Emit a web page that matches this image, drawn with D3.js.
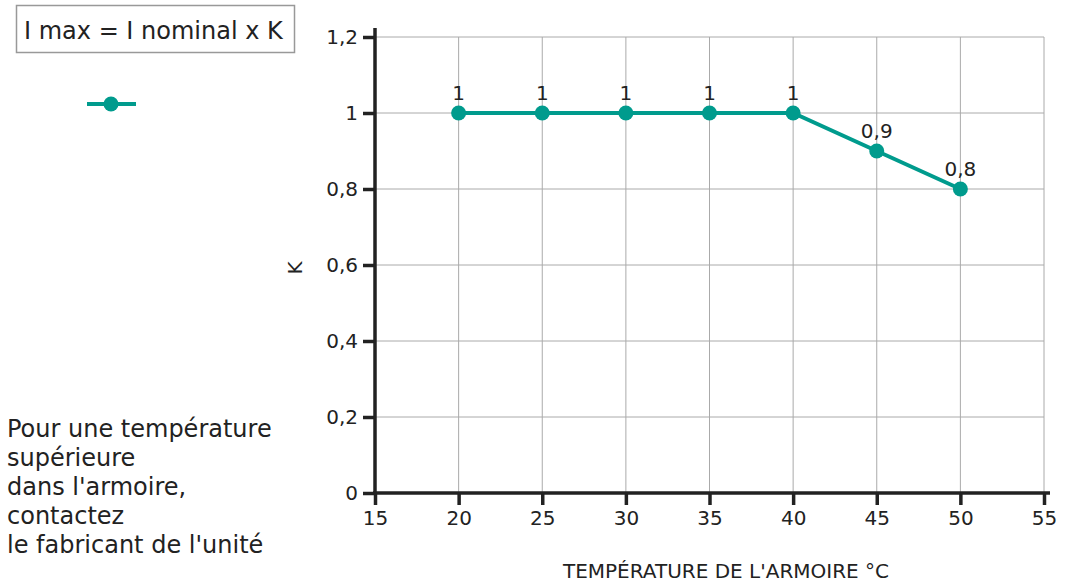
<!DOCTYPE html>
<html>
<head>
    <meta charset='utf-8'>
    <style>
        body { margin: 0; background: #fff; }
        text { font-family: "DejaVu Sans", Verdana, sans-serif; fill: #222; }
        .grid line { stroke: #aaa; stroke-width: 1px; }
    </style>
</head>
<body>
    <div id='chart'></div>
    <script src="https://d3js.org/d3.v7.min.js"></script>
    <script>
        var temps = [20, 25, 30, 35, 40, 45, 50];
        var kValues = [1, 1, 1, 1, 1, 0.9, 0.8];
        var xTicks = [15, 20, 25, 30, 35, 40, 45, 50, 55];
        var yTicks = [0, 0.2, 0.4, 0.6, 0.8, 1, 1.2];
        var noteLines = ["Pour une température", "supérieure", "dans l'armoire,", "contactez", "le fabricant de l'unité"];

        var width = 1065, height = 584;
        var color = "#009b8d";
        var fmt = function(v) { return String(v).replace(".", ","); };

        var svg = d3.select('#chart').append('svg')
            .attr('width', width).attr('height', height);

        var x = d3.scaleLinear().domain([15, 55]).range([375, 1044]);
        var y = d3.scaleLinear().domain([0, 1.2]).range([493, 37]);

        // grid
        var grid = svg.append('g').attr('class', 'grid');
        grid.selectAll('.vx').data(xTicks.slice(1)).enter().append('line')
            .attr('x1', d => x(d)).attr('x2', d => x(d))
            .attr('y1', y(1.2)).attr('y2', y(0));
        grid.selectAll('.hy').data(yTicks.slice(1)).enter().append('line')
            .attr('x1', x(15)).attr('x2', x(55))
            .attr('y1', d => y(d)).attr('y2', d => y(d));

        // axes
        var xAxis = svg.append('g').attr('transform', 'translate(0,' + y(0) + ')')
            .call(d3.axisBottom(x).tickValues(xTicks).tickSize(12).tickPadding(6).tickFormat(fmt));
        xAxis.select('.domain').remove();
        xAxis.append('line').attr('x1', x(15) - 2).attr('x2', x(55) + 6)
            .attr('stroke', '#222').attr('stroke-width', 3.5);
        xAxis.selectAll('.tick line').attr('stroke', '#222').attr('stroke-width', 3.5);

        var yAxis = svg.append('g').attr('transform', 'translate(' + x(15) + ',0)')
            .call(d3.axisLeft(y).tickValues(yTicks).tickSize(12).tickPadding(5).tickFormat(fmt));
        yAxis.select('.domain').remove();
        yAxis.append('line').attr('y1', y(1.2) - 9).attr('y2', y(0) + 2)
            .attr('stroke', '#222').attr('stroke-width', 3.5);
        yAxis.selectAll('.tick line').attr('stroke', '#222').attr('stroke-width', 3.5);

        svg.selectAll('.tick text').style('font-size', '20px').style('fill', '#222')
            .style('font-family', '"DejaVu Sans", Verdana, sans-serif');

        // axis titles
        svg.append('text').attr('x', 726).attr('y', 578).attr('text-anchor', 'middle')
            .style('font-size', '20px').text("TEMPÉRATURE DE L'ARMOIRE °C");
        svg.append('text').attr('transform', 'translate(302,268) rotate(-90)')
            .attr('text-anchor', 'middle').style('font-size', '20px').text('K');

        // series
        var pts = temps.map((t, i) => [t, kValues[i]]);
        svg.append('path').datum(pts)
            .attr('d', d3.line().x(d => x(d[0])).y(d => y(d[1])))
            .attr('fill', 'none').attr('stroke', color).attr('stroke-width', 4);
        svg.selectAll('.pt').data(pts).enter().append('circle')
            .attr('cx', d => x(d[0])).attr('cy', d => y(d[1])).attr('r', 7.5)
            .attr('fill', color);
        svg.selectAll('.lbl').data(pts).enter().append('text')
            .attr('x', d => x(d[0])).attr('y', d => y(d[1]) - 13)
            .attr('text-anchor', 'middle').style('font-size', '20px')
            .text(d => fmt(d[1]));

        // formula box
        svg.append('rect').attr('x', 16.5).attr('y', 5.5).attr('width', 278).attr('height', 47)
            .attr('fill', 'none').attr('stroke', '#999').attr('stroke-width', 1.5);
        svg.append('text').attr('x', 24).attr('y', 39).style('font-size', '24px')
            .text('I max = I nominal x K');

        // legend
        svg.append('line').attr('x1', 87).attr('x2', 136).attr('y1', 104).attr('y2', 104)
            .attr('stroke', color).attr('stroke-width', 4);
        svg.append('circle').attr('cx', 111).attr('cy', 104).attr('r', 7.5).attr('fill', color);

        // note
        svg.append('g').selectAll('text').data(noteLines).enter().append('text')
            .attr('x', 7).attr('y', (d, i) => 437 + i * 29)
            .style('font-size', '24px').text(d => d);
    </script>
</body>
</html>
